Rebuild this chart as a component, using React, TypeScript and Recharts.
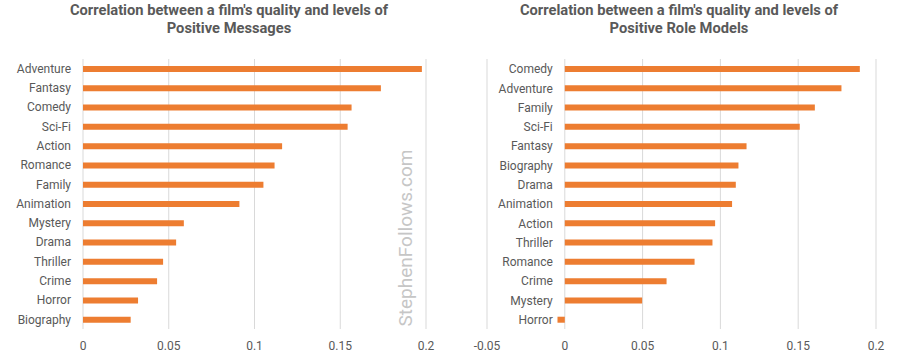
import { BarChart, Bar, XAxis, YAxis, CartesianGrid, LabelList } from "recharts";

const messagesGenres = ["Adventure", "Fantasy", "Comedy", "Sci-Fi", "Action", "Romance", "Family", "Animation", "Mystery", "Drama", "Thriller", "Crime", "Horror", "Biography"];
const messagesValues = [0.1976, 0.1737, 0.1566, 0.1543, 0.1161, 0.1117, 0.1052, 0.0912, 0.0588, 0.0543, 0.0467, 0.0432, 0.0321, 0.0278];

const roleGenres = ["Comedy", "Adventure", "Family", "Sci-Fi", "Fantasy", "Biography", "Drama", "Animation", "Action", "Thriller", "Romance", "Crime", "Mystery", "Horror"];
const roleValues = [0.1896, 0.1778, 0.1607, 0.151, 0.1168, 0.1116, 0.1099, 0.1075, 0.0966, 0.0949, 0.0834, 0.0654, 0.0497, -0.0047];

const leftTicks = [0, 0.05, 0.1, 0.15, 0.2];
const rightTicks = [-0.05, 0, 0.05, 0.1, 0.15, 0.2];

const messagesData = messagesGenres.map((name, i) => ({ name, value: messagesValues[i] }));
const roleData = roleGenres.map((name, i) => ({ name, value: roleValues[i] }));

const ORANGE = "#ED7D31";
const TEXT = "#595959";
const GRID = "#d9d9d9";

const titleStyle = {
  position: "absolute" as const,
  top: 1,
  width: 450,
  textAlign: "center" as const,
  fontWeight: 700,
  fontSize: 14.7,
  lineHeight: "18px",
  color: TEXT,
};

// labels sit next to the zero line, like Excel does
function RoleLabel(props: any) {
  const vb = props.viewBox ?? props;
  const v = roleValues[props.index] ?? 0;
  const zero = v < 0 && vb.width > 0 ? vb.x + vb.width : vb.x;
  return (
    <text x={zero - 12} y={vb.y + vb.height / 2} dy="0.355em" textAnchor="end" fill={TEXT} fontSize={12}>
      {props.value}
    </text>
  );
}

export default function App() {
  return (
    <div style={{ position: "fixed", left: 0, top: 0, width: 900, height: 361, background: "#fff", fontFamily: "Roboto, sans-serif" }}>
      <div style={{ ...titleStyle, left: 4 }}>
        Correlation between a film's quality and levels of
        <br />
        Positive Messages
      </div>
      <div style={{ ...titleStyle, left: 454 }}>
        Correlation between a film's quality and levels of
        <br />
        Positive Role Models
      </div>

      <div style={{ position: "absolute", left: 0, top: 0 }}>
        <BarChart width={450} height={361} layout="vertical" data={messagesData} margin={{ top: 59, right: 24, bottom: 2, left: 0 }}>
          <CartesianGrid horizontal={false} stroke={GRID} />
          <XAxis
            type="number"
            domain={[0, 0.2]}
            ticks={leftTicks}
            axisLine={false}
            tickLine={false}
            tickMargin={6}
            tick={{ fill: TEXT, fontSize: 12 }}
          />
          <YAxis
            type="category"
            dataKey="name"
            width={83}
            axisLine={false}
            tickLine={false}
            tickMargin={6}
            interval={0}
            tick={{ fill: TEXT, fontSize: 12 }}
          />
          <Bar dataKey="value" fill={ORANGE} barSize={6} isAnimationActive={false} />
        </BarChart>
      </div>

      <div style={{ position: "absolute", left: 450, top: 0 }}>
        <BarChart width={450} height={361} layout="vertical" data={roleData} margin={{ top: 59, right: 24, bottom: 2, left: 37 }}>
          <CartesianGrid horizontal={false} stroke={GRID} />
          <XAxis
            type="number"
            domain={[-0.05, 0.2]}
            ticks={rightTicks}
            axisLine={false}
            tickLine={false}
            tickMargin={6}
            tick={{ fill: TEXT, fontSize: 12 }}
          />
          <YAxis type="category" dataKey="name" hide />
          <Bar dataKey="value" fill={ORANGE} barSize={6} isAnimationActive={false}>
            <LabelList dataKey="name" content={RoleLabel} />
          </Bar>
        </BarChart>
      </div>

      <div
        style={{
          position: "absolute",
          left: 305.5,
          top: 225.5,
          width: 200,
          height: 24,
          lineHeight: "24px",
          textAlign: "center",
          fontSize: 19,
          color: "#c6c6c6",
          transform: "rotate(-90deg)",
        }}
      >
        StephenFollows.com
      </div>
    </div>
  );
}
